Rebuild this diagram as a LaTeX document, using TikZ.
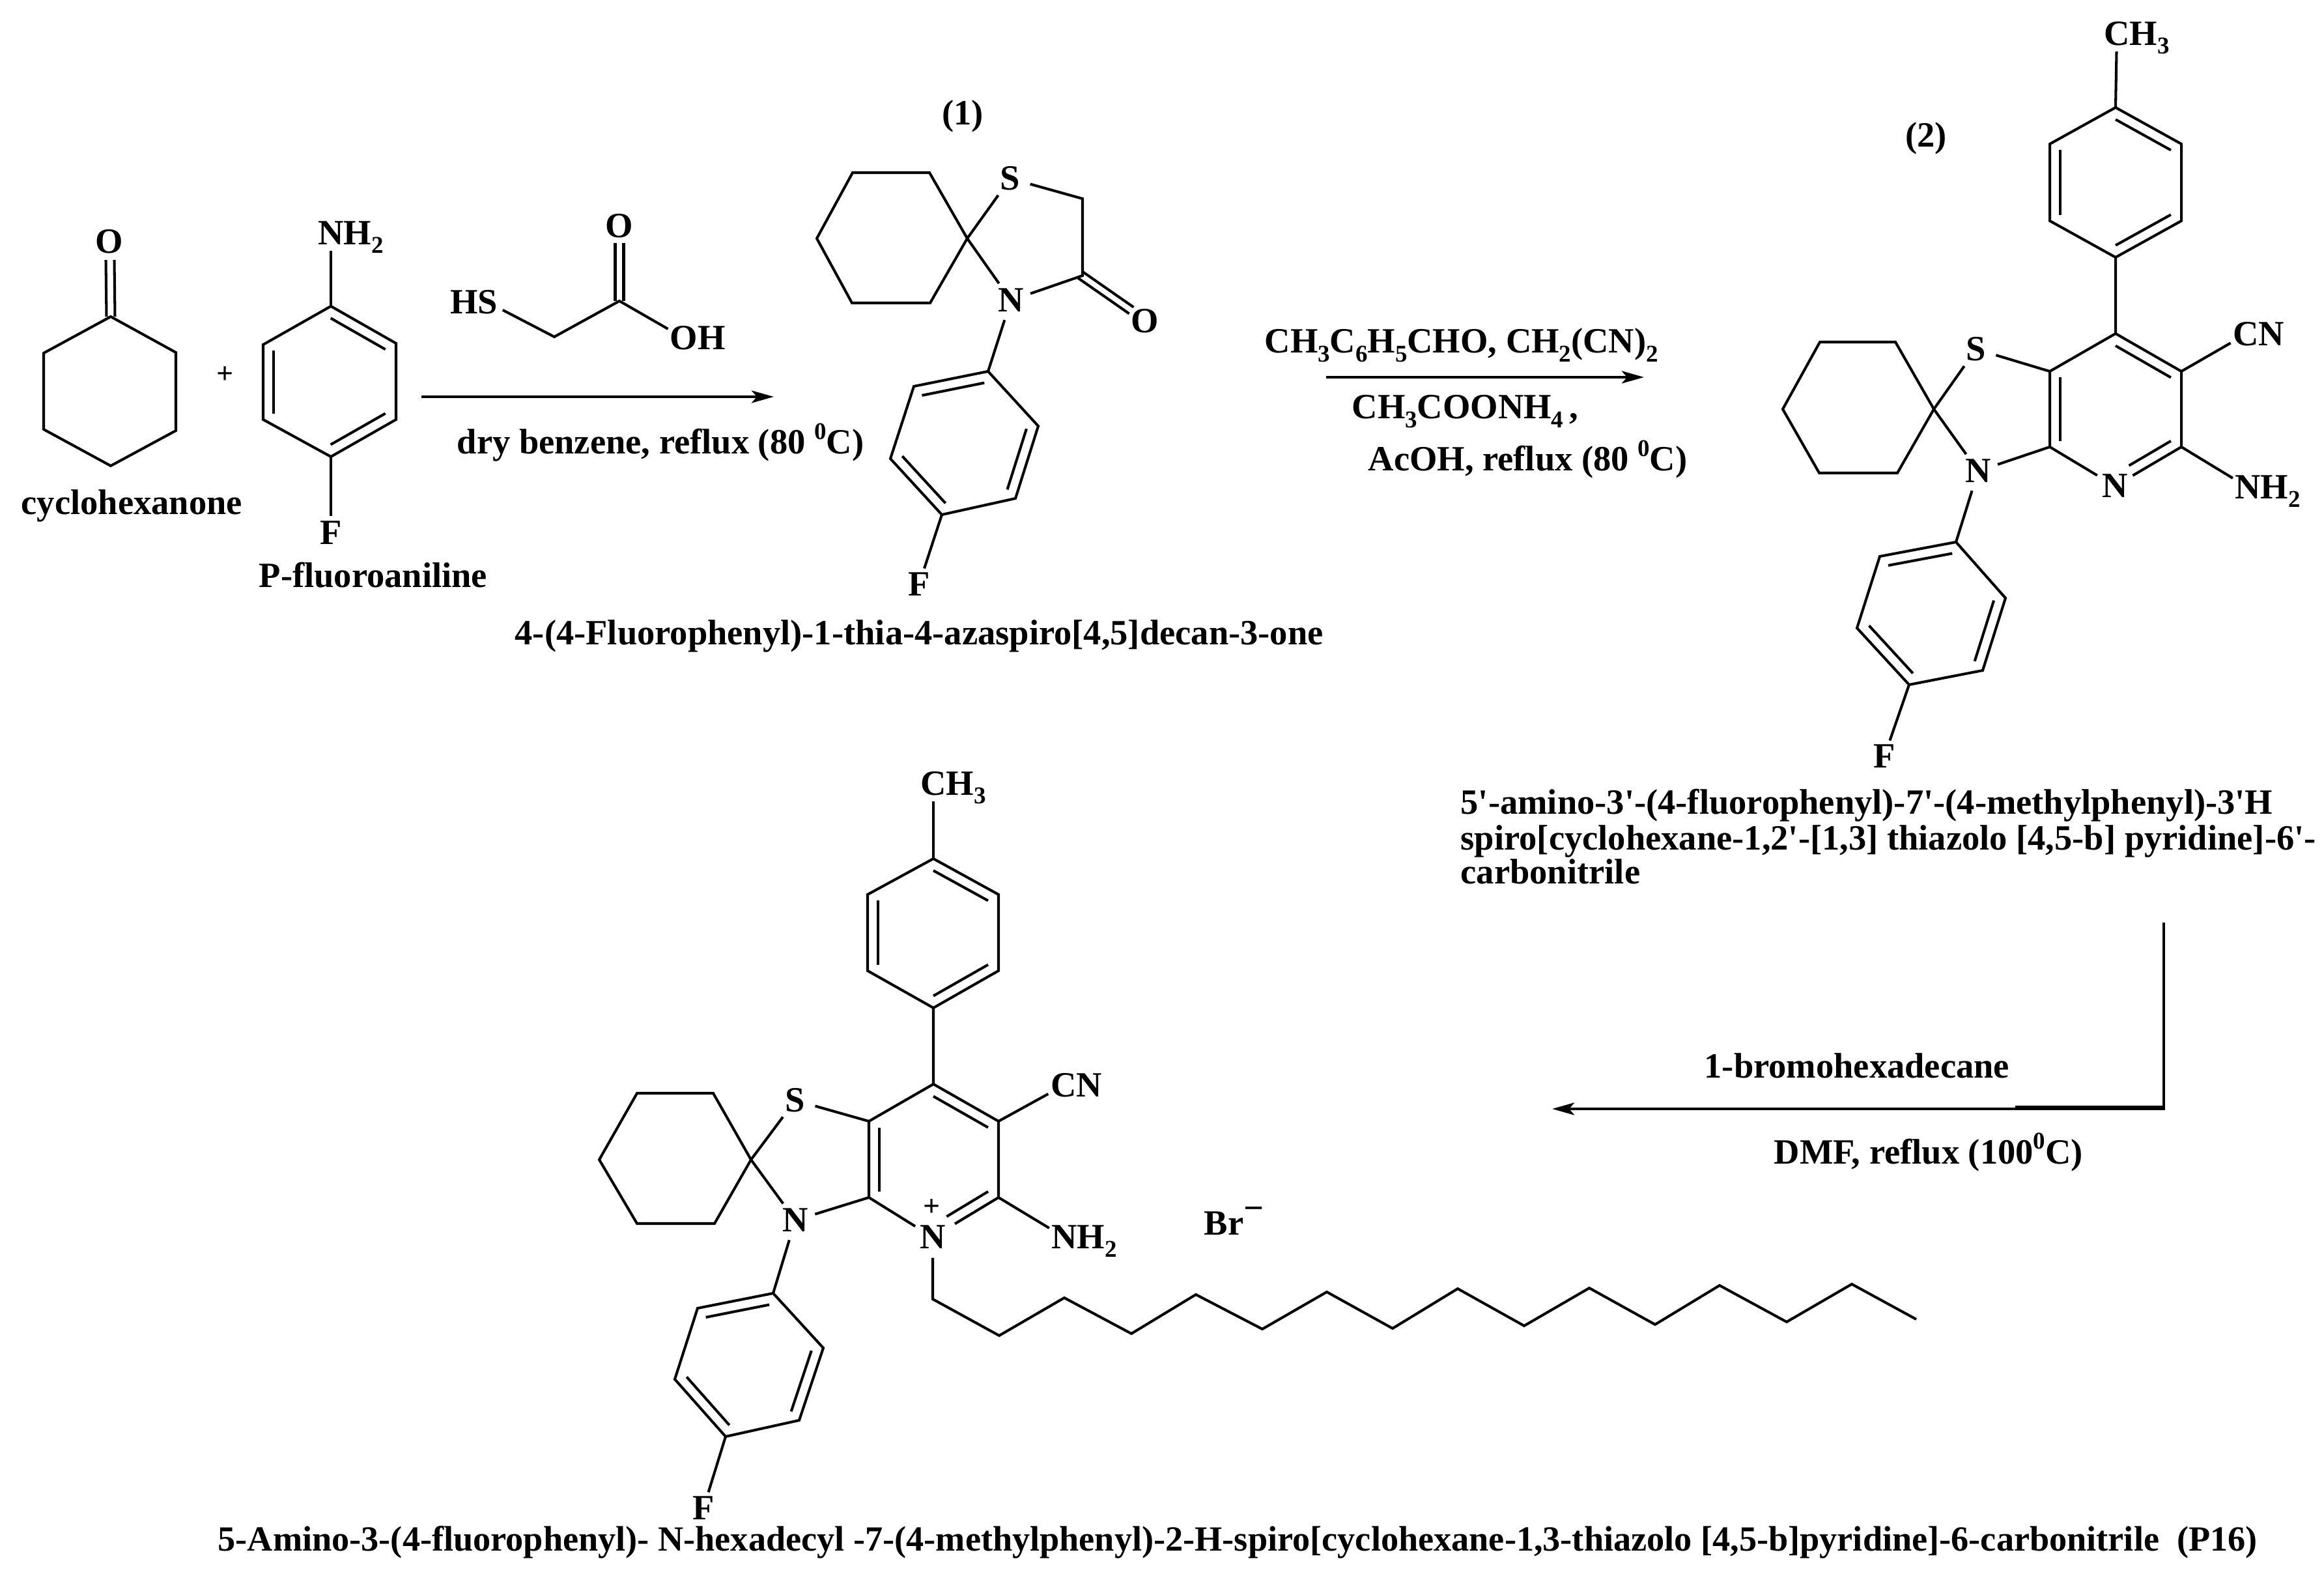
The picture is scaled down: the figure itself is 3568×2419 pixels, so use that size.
\documentclass[tikz,border=0pt]{standalone}
\usepackage{fontspec}
\newfontfamily\txtf{Liberation Serif}
\usetikzlibrary{calc,arrows.meta}
\newcommand{\sbs}[1]{\raisebox{-.24em}{\fontsize{10.5}{12}\selectfont #1}}
\newcommand{\spp}[1]{\raisebox{.42em}{\fontsize{10.5}{12}\selectfont #1}}
\newcommand{\innerb}[3]{\draw[bond] ($(#3)!.84!(#1)$) -- ($(#3)!.84!(#2)$);}
\newcommand{\innerp}[3]{\draw[bond] ($(#3)!.84!(#1)$) -- ($($(#3)!.84!(#1)$)!.75!($(#3)!.84!(#2)$)$);}
\newcommand{\dblbond}[3]{\draw[bond] ($(#1)!#3!90:(#2)$) -- ($(#2)!#3!-90:(#1)$); \draw[bond] ($(#1)!#3!-90:(#2)$) -- ($(#2)!#3!90:(#1)$);}
\tikzset{
  bond/.style={line width=1.15pt,line join=miter,black},
  rxn/.style={line width=1.2pt,black,-{Stealth[length=.34cm,width=.19cm,inset=.08cm]}},
  atom/.style={circle,inner sep=0pt,minimum size=.5cm,text height=10pt,text depth=0pt,font=\txtf\fontsize{15.5}{18}\selectfont\bfseries},
  atomw/.style={atom,minimum size=.62cm},
  lab/.style={inner sep=0pt,anchor=base west,font=\txtf\fontsize{15.5}{18}\selectfont\bfseries},
  labc/.style={inner sep=0pt,font=\txtf\fontsize{15.5}{18}\selectfont\bfseries},
  title/.style={inner sep=0pt,anchor=base west,font=\txtf\fontsize{15.43}{18}\selectfont\bfseries},
}
\begin{document}
\begin{tikzpicture}[x=0.01cm,y=-0.01cm]
\useasboundingbox (0,0) rectangle (3568,2419);
% cyclohexanone
\coordinate (a1) at (170,486);\coordinate (a2) at (270,541);\coordinate (a3) at (270,661);
\coordinate (a4) at (170,715);\coordinate (a5) at (67,659);\coordinate (a6) at (67,542);
\coordinate (aO) at (169,399);
\node[atom] (O1) at (168,371) {O};
\draw[bond] (a1)--(a2)--(a3)--(a4)--(a5)--(a6)--cycle;
\dblbond{a1}{aO}{.065cm}
\node[lab] (n1) at (32,790) {cyclohexanone};
\node[labc,font=\txtf\fontsize{13}{15}\selectfont\bfseries] (plus) at (346,576) {+};
% p-fluoroaniline
\coordinate (b1) at (508,470);\coordinate (b2) at (608,527);\coordinate (b3) at (608,644);
\coordinate (b4) at (508,701);\coordinate (b5) at (404,644);\coordinate (b6) at (404,529);
\coordinate (bc) at (506,585);
\node[atom] (NH1) at (508,358) {N\rlap{H\sbs{2}}};
\node[atom] (F1) at (508,818) {F};
\draw[bond] (b1)--(b2)--(b3)--(b4)--(b5)--(b6)--cycle;
\innerb{b1}{b2}{bc}\innerb{b3}{b4}{bc}\innerb{b5}{b6}{bc}
\draw[bond] (b1)--(NH1);\draw[bond] (b4)--(F1);
\node[lab] (n2) at (397,902) {P-fluoroaniline};
% mercaptoacetic acid
\node[atom] (HS) at (749,464) {\llap{H}S};
\coordinate (t1) at (851,517);\coordinate (t2) at (951,462);\coordinate (tO) at (951,373);
\node[atom] (O2) at (951,347) {O};
\node[atom] (OH) at (1050,519) {O\rlap{H}};
\draw[bond] (HS)--(t1)--(t2)--(OH);
\dblbond{t2}{tO}{.065cm}
% arrow 1
\coordinate (r1s) at (647,609);\coordinate (r1e) at (1188,609);
\draw[rxn] (r1s)--(r1e);
\node[lab] (r1t) at (701,697) {dry benzene, reflux (80 \spp{0}C)};
% compound 1
\node[labc] (l1) at (1478,178) {(1)};
\coordinate (c1) at (1309,265);\coordinate (c2) at (1427,265);\coordinate (c3) at (1485,366);
\coordinate (c4) at (1428,465);\coordinate (c5) at (1308,465);\coordinate (c6) at (1254,366);
\draw[bond] (c1)--(c2)--(c3)--(c4)--(c5)--(c6)--cycle;
\node[atomw] (S1) at (1551,274) {S};
\node[atomw] (N1) at (1552,461) {N};
\node[atom] (O3) at (1758,493) {O};
\coordinate (c7) at (1662,305);\coordinate (c8) at (1662,423);
\coordinate (c8a) at (1658,421.5);\coordinate (c8b) at (1737,476.5);
\draw[bond] (c3)--(S1);\draw[bond] (S1)--(c7)--(c8)--(N1);\draw[bond] (c3)--(N1);
\dblbond{c8a}{c8b}{.06cm}
\coordinate (d1) at (1517,570);\coordinate (d2) at (1594,654);\coordinate (d3) at (1559,765);
\coordinate (d4) at (1446,790);\coordinate (d5) at (1367,704);\coordinate (d6) at (1403,593);
\coordinate (dc) at (1481,680);
\draw[bond] (d1)--(d2)--(d3)--(d4)--(d5)--(d6)--cycle;
\innerb{d1}{d6}{dc}\innerb{d2}{d3}{dc}\innerb{d4}{d5}{dc}
\draw[bond] (N1)--(d1);
\node[atom] (F2) at (1411,897) {F};
\draw[bond] (d4)--(F2);
\node[lab] (n3) at (790,990) {4-(4-Fluorophenyl)-1-thia-4-azaspiro[4,5]decan-3-one};
% arrow 2
\coordinate (r2s) at (2036,579);\coordinate (r2e) at (2524,579);
\draw[rxn] (r2s)--(r2e);
\node[lab] (r2a) at (1941,542) {CH\sbs{3}C\sbs{6}H\sbs{5}CHO, CH\sbs{2}(CN)\sbs{2}};
\node[lab] (r2b) at (2075,643) {CH\sbs{3}COONH\sbs{4}\,,};
\node[lab] (r2c) at (2100,723) {AcOH, reflux (80 \spp{0}C)};
% compound 2
\node[labc] (l2) at (2957,212) {(2)};
\node[atom] (CH3a) at (3250,52) {C\rlap{H\sbs{3}}};
\coordinate (e1) at (3248,165);\coordinate (e2) at (3349,221);\coordinate (e3) at (3349,339);
\coordinate (e4) at (3248,395);\coordinate (e5) at (3147,339);\coordinate (e6) at (3147,221);
\coordinate (ec) at (3248,280);
\draw[bond] (e1)--(e2)--(e3)--(e4)--(e5)--(e6)--cycle;
\innerb{e1}{e2}{ec}\innerb{e3}{e4}{ec}\innerb{e5}{e6}{ec}
\draw[bond] (CH3a)--(e1);
\coordinate (f1) at (3248,512);\coordinate (f2) at (3349,570);\coordinate (f3) at (3349,686);
\coordinate (f5) at (3147,686);\coordinate (f6) at (3147,570);\coordinate (fc) at (3248,629);
\node[atomw] (N2) at (3247,746) {N};
\node[atom] (CNa) at (3448,513) {C\rlap{N}};
\node[atom] (NH2a) at (3451,748) {N\rlap{H\sbs{2}}};
\draw[bond] (e4)--(f1)--(f2)--(f3);\draw[bond] (f3)--(N2)--(f5)--(f6)--(f1);
\innerb{f1}{f2}{fc}\innerb{f5}{f6}{fc}\innerp{f3}{N2}{fc}
\draw[bond] (f2)--(CNa);\draw[bond] (f3)--(NH2a);
\node[atomw] (S2) at (3034,536) {S};
\node[atomw] (N3) at (3037,723) {N};
\coordinate (g0) at (2969,628);
\draw[bond] (S2)--(f6);\draw[bond] (N3)--(f5);\draw[bond] (S2)--(g0)--(N3);
\coordinate (g1) at (2794,525);\coordinate (g2) at (2910,525);\coordinate (g4) at (2913,726);
\coordinate (g5) at (2793,726);\coordinate (g6) at (2737,628);
\draw[bond] (g0)--(g2)--(g1)--(g6)--(g5)--(g4)--cycle;
\coordinate (h1) at (3003,832);\coordinate (h2) at (3079,918);\coordinate (h3) at (3044,1029);
\coordinate (h4) at (2931,1051);\coordinate (h5) at (2851,964);\coordinate (h6) at (2886,854);
\coordinate (hc) at (2967,941);
\draw[bond] (h1)--(h2)--(h3)--(h4)--(h5)--(h6)--cycle;
\innerb{h1}{h6}{hc}\innerb{h2}{h3}{hc}\innerb{h4}{h5}{hc}
\draw[bond] (N3)--(h1);
\node[atom] (F3) at (2893,1161) {F};
\draw[bond] (h4)--(F3);
\node[lab] (n4a) at (2242,1250) {5'-amino-3'-(4-fluorophenyl)-7'-(4-methylphenyl)-3'H};
\node[lab] (n4b) at (2242,1305) {spiro[cyclohexane-1,2'-[1,3] thiazolo [4,5-b] pyridine]-6'-};
\node[lab] (n4c) at (2242,1357) {carbonitrile};
% arrow 3
\coordinate (r3s) at (3322,1416);\coordinate (r3k) at (3322,1702);\coordinate (r3e) at (2383,1702);
\coordinate (r3t) at (3094,1700);\coordinate (r3u) at (3324,1700);
\draw[rxn,line join=miter] (r3s)--(r3k)--(r3e);
\draw[line width=1.5pt] (r3t)--(r3u);
\node[lab] (r3a) at (2616,1655) {1-bromohexadecane};
\node[lab] (r3b) at (2723,1786) {DMF, reflux (100\spp{0}C)};
% product
\node[atom] (CH3b) at (1433,1203) {C\rlap{H\sbs{3}}};
\coordinate (i1) at (1433,1318);\coordinate (i2) at (1533,1373);\coordinate (i3) at (1533,1490);
\coordinate (i4) at (1433,1547);\coordinate (i5) at (1332,1490);\coordinate (i6) at (1332,1373);
\coordinate (ic) at (1433,1432);
\draw[bond] (i1)--(i2)--(i3)--(i4)--(i5)--(i6)--cycle;
\innerb{i1}{i2}{ic}\innerb{i3}{i4}{ic}\innerb{i5}{i6}{ic}
\draw[bond] (CH3b)--(i1);
\coordinate (j1) at (1433,1664);\coordinate (j2) at (1533,1721);\coordinate (j3) at (1533,1838);
\coordinate (j5) at (1334,1838);\coordinate (j6) at (1334,1721);\coordinate (jc) at (1433,1781);
\node[atomw] (Np) at (1432,1899) {N};
\node[labc,font=\txtf\fontsize{13}{15}\selectfont\bfseries] (chg) at (1431,1854) {+};
\node[atom] (CNb) at (1633,1666) {C\rlap{N}};
\node[atom] (NH2b) at (1634,1899) {N\rlap{H\sbs{2}}};
\draw[bond] (i4)--(j1)--(j2)--(j3);\draw[bond,shorten >=.08cm] (j3)--(Np);\draw[bond] (Np)--(j5)--(j6)--(j1);
\innerb{j1}{j2}{jc}\innerb{j5}{j6}{jc}\innerp{j3}{Np}{jc}
\draw[bond] (j2)--(CNb);\draw[bond] (j3)--(NH2b);
\node[atomw] (S3) at (1221,1689) {S};
\node[atomw] (N4) at (1221,1873) {N};
\coordinate (k0) at (1153,1780);
\draw[bond] (S3)--(j6);\draw[bond] (N4)--(j5);\draw[bond] (S3)--(k0)--(N4);
\coordinate (k1) at (978,1678);\coordinate (k2) at (1095,1678);\coordinate (k4) at (1097,1878);
\coordinate (k5) at (978,1878);\coordinate (k6) at (920,1780);
\draw[bond] (k0)--(k2)--(k1)--(k6)--(k5)--(k4)--cycle;
\coordinate (m1) at (1187,1985);\coordinate (m2) at (1264,2069);\coordinate (m3) at (1227,2180);
\coordinate (m4) at (1114,2205);\coordinate (m5) at (1036,2117);\coordinate (m6) at (1071,2008);
\coordinate (mc) at (1150,2095);
\draw[bond] (m1)--(m2)--(m3)--(m4)--(m5)--(m6)--cycle;
\innerb{m1}{m6}{mc}\innerb{m2}{m3}{mc}\innerb{m4}{m5}{mc}
\draw[bond] (N4)--(m1);
\node[atom] (F4) at (1080,2315) {F};
\draw[bond] (m4)--(F4);
\node[lab] (Br) at (1848,1895) {Br\raisebox{.42em}{−}};
\foreach \n/\x/\y in {1/1432/1994,2/1534/2050,3/1634/1992,4/1737/2047,5/1836/1987,6/1938/2040,7/2037/1983,8/2138/2039,9/2238/1978,10/2340/2035,11/2440/1977,12/2541/2033,13/2640/1973,14/2743/2029,15/2843/1971,16/2942/2025}
  \coordinate (ch\n) at (\x,\y);
\draw[bond] (Np)--(ch1)--(ch2)--(ch3)--(ch4)--(ch5)--(ch6)--(ch7)--(ch8)--(ch9)--(ch10)--(ch11)--(ch12)--(ch13)--(ch14)--(ch15)--(ch16);
\node[title] (n5) at (334,2380) {5-Amino-3-(4-fluorophenyl)- N-hexadecyl -7-(4-methylphenyl)-2-H-spiro[cyclohexane-1,3-thiazolo [4,5-b]pyridine]-6-carbonitrile\ \ (P16)};
\end{tikzpicture}
\end{document}
